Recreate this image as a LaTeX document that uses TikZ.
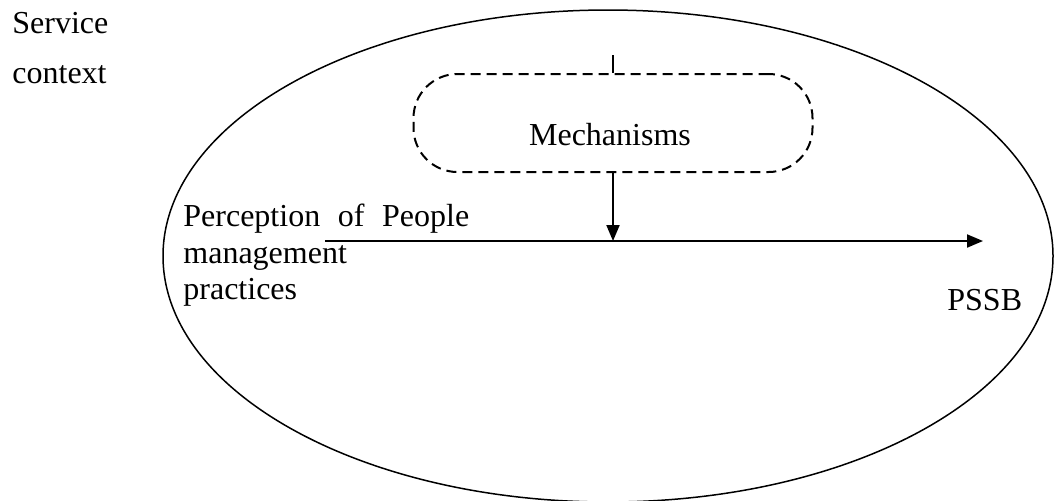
\documentclass[tikz,border=0pt]{standalone}
\usepackage{fontspec}
\setmainfont{Liberation Serif}
\usetikzlibrary{arrows.meta,positioning}
\tikzset{font=\fontsize{16pt}{18pt}\selectfont}
\tikzset{every node/.append style={transform shape=false}}
\tikzset{mech/.style={draw,dash pattern=on 5pt off 3pt,line width=1pt,rounded corners=22pt,minimum width=199.5pt,minimum height=49pt}}
\tikzset{flow/.style={line width=1pt,-{Triangle[length=8pt,width=6.5pt]}}}
\tikzset{txt/.style={anchor=base west,inner sep=0pt}}

\begin{document}
\begin{tikzpicture}[x=0.5pt,y=-0.5pt]
  \useasboundingbox (0,0) rectangle (1054,500);
  \draw[line width=0.75pt] (608,256) ellipse [x radius=222.5pt, y radius=123pt];
  \node[txt] (service) at (12,33) {Service};
  \node[txt] (context) at (12,83) {context};
  \node[mech] (mechanisms) at (613,123) {};
  \node[anchor=base,inner sep=0pt] (mechtext) at (610,145) {Mechanisms};
  \node[txt] (perception) at (183,226.5) {Perception\hspace{0.55em}of\hspace{0.55em}People};
  \node[txt] (management) at (183,263) {management};
  \node[txt] (practices) at (183,299.5) {practices};
  \node[txt] (pssb) at (947,310) {PSSB};
  \coordinate (start) at (325,241);
  \coordinate (finish) at (983,241);
  \coordinate (tick) at (613,55);
  \draw[flow] (start) -- (finish);
  \draw[flow] (mechanisms.south) -- (mechanisms.south |- start);
  \draw[line width=1pt] (mechanisms.north) -- (tick);
\end{tikzpicture}
\end{document}
